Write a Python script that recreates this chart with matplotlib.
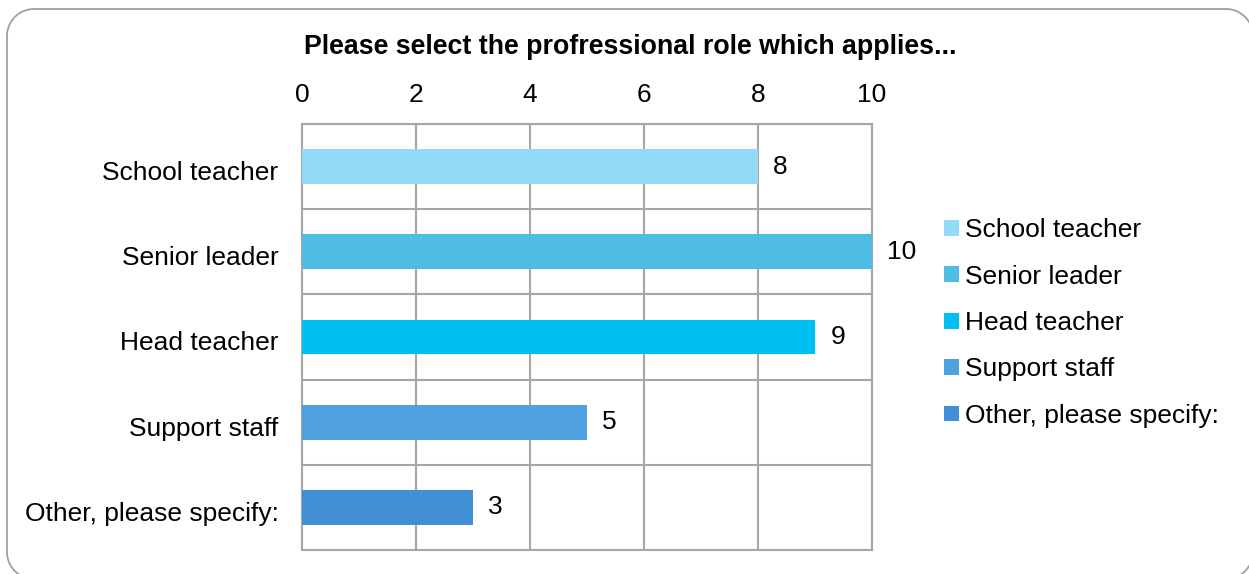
import matplotlib
matplotlib.use("Agg")
import matplotlib.pyplot as plt
from matplotlib.patches import Patch
from matplotlib.lines import Line2D
from matplotlib.transforms import ScaledTranslation
import numpy as np

categories = ["School teacher", "Senior leader", "Head teacher", "Support staff", "Other, please specify:"]
values = [8, 10, 9, 5, 3]
colors = ["#93DAF6", "#4FBCE3", "#00C0F2", "#4FA1DF", "#418FD4"]
xticks = [0, 2, 4, 6, 8, 10]
title = "Please select the profressional role which applies..."

plt.rcParams['font.family'] = ['Liberation Sans', 'DejaVu Sans']

W, H = 1249, 574
FS = 19
fig = plt.figure(figsize=(W / 100, H / 100), dpi=100)

# rounded outer border (pixel geometry, top-left origin), extends past right/bottom
bx0, by0, bx1, by1, r = 7, 9, 1253, 579, 27
pts = []
for (cx, cy, a0) in [(bx1 - r, by0 + r, -90), (bx1 - r, by1 - r, 0),
                     (bx0 + r, by1 - r, 90), (bx0 + r, by0 + r, 180)]:
    ang = np.radians(np.linspace(a0, a0 + 90, 20))
    pts += list(zip(cx + r * np.cos(ang), cy + r * np.sin(ang)))
pts.append(pts[0])
px = np.array([p[0] for p in pts]) / W
py = 1 - np.array([p[1] for p in pts]) / H
fig.add_artist(Line2D(px, py, transform=fig.transFigure, color="#A0A0A0",
                      linewidth=1.3, zorder=-1))

ax = fig.add_axes([302 / W, 1 - 550 / H, (872 - 302) / W, (550 - 124) / H])
ax.set_facecolor("none")

y = np.arange(len(categories))
for i, (c, v, col) in enumerate(zip(categories, values, colors)):
    bars = ax.barh(i, v, height=0.41, color=col, label=c, zorder=3)
    ax.bar_label(bars, labels=[str(v)], padding=11, fontsize=FS, color="#000000")

ax.set_xlim(0, 10)
ax.set_ylim(len(categories) - 0.5, -0.5)
ax.set_xticks(xticks)
ax.set_xticklabels([str(t) for t in xticks])
ax.xaxis.tick_top()
ax.set_yticks(y)
ax.set_yticklabels(categories)
ax.set_yticks(np.arange(-0.5, len(categories), 1), minor=True)
ax.tick_params(axis='both', which='both', length=0, labelsize=FS, colors="#000000")
ax.tick_params(axis='x', pad=12)
ax.tick_params(axis='y', pad=17)
for lbl in ax.get_yticklabels():
    lbl.set_transform(lbl.get_transform() + ScaledTranslation(0, -0.04, fig.dpi_scale_trans))
ax.grid(axis='x', which='major', color="#A6A6A6", linewidth=1.5, zorder=1)
ax.grid(axis='y', which='minor', color="#A6A6A6", linewidth=1.5, zorder=1)
for s in ax.spines.values():
    s.set_color("#A6A6A6")
    s.set_linewidth(1.5)

handles = [Patch(facecolor=col, edgecolor='none') for col in colors]
fig.legend(handles, categories, loc='center left',
           bbox_to_anchor=(944 / W, 1 - 323 / H), frameon=False,
           fontsize=FS, handlelength=0.55, handleheight=0.55,
           handletextpad=0.25, labelspacing=0.85, borderpad=0, borderaxespad=0)

fig.text(630 / W, 1 - 47 / H, title, ha='center', va='center',
         fontsize=19.3, fontweight='bold', color="#000000")

fig.savefig("out.png", dpi=100, facecolor="white")
